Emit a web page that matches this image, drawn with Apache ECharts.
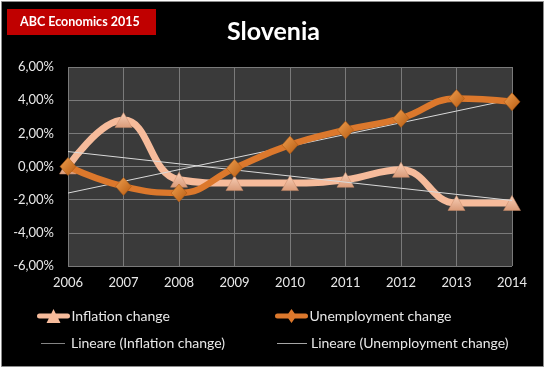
<!DOCTYPE html>
<html>
<head>
<meta charset="utf-8">
<script src="https://cdn.jsdelivr.net/npm/echarts@6/dist/echarts.min.js"></script>
<style>
html,body{margin:0;padding:0;background:#ffffff;}
#chart{width:547px;height:369px;}
</style>
</head>
<body>
<div id="chart"></div>
<script>
var years = ['2006','2007','2008','2009','2010','2011','2012','2013','2014'];
var inflationChange = [0.0, 2.8, -0.8, -1.0, -1.0, -0.8, -0.2, -2.2, -2.2];
var unemploymentChange = [0.0, -1.2, -1.6, -0.1, 1.3, 2.2, 2.9, 4.1, 3.9];
// trend line endpoints (first year, last year)
var inflationTrend = [0.9, -2.05];
var unemploymentTrend = [-1.6, 4.05];

function endpoints(arr) {
  var d = years.map(function(){ return null; });
  d[0] = arr[0]; d[years.length - 1] = arr[1];
  return d;
}
function fmt(v){ return v.toFixed(2).replace('.', ',') + '%'; }

var FONT = 'Lato';
var INF = '#f6bb9b', UNE = '#dc782c', TREND = '#d9d9d9';
var chart = echarts.init(document.getElementById('chart'), null, {renderer:'canvas'});
function legendItem(left, top, w, h, name, icon, color, padLeft) {
  return {
    left:left, top:top, padding:0, itemWidth:w, itemHeight:h, itemGap:0, selectedMode:false,
    data:[{name:name, icon:icon, itemStyle:{color:color, borderWidth:0}}],
    textStyle:{color:'#e8e8e8', fontSize:14, fontFamily:FONT, padding:[0,0,0,padLeft]}
  };
}
var infIcon = 'path://M3,4.5 L31,4.5 A2.5,2.5 0 0 1 31,9.5 L3,9.5 A2.5,2.5 0 0 1 3,4.5 Z M10,14 L17,0 L24,14 Z';
var uneIcon = 'path://M3,4.5 L31,4.5 A2.5,2.5 0 0 1 31,9.5 L3,9.5 A2.5,2.5 0 0 1 3,4.5 Z M17,0 L22,7 L17,14 L12,7 Z';
var lineIcon = 'path://M0,0 L30,0 L30,1 L0,1 Z';

chart.setOption({
  backgroundColor:'#ffffff',
  animation:false,
  graphic:[
    {type:'rect', shape:{x:1.5,y:1.5,width:542,height:365}, style:{fill:'#000000', stroke:'#8c8c8c', lineWidth:1}, z:-10},
    {type:'rect', shape:{x:7,y:9,width:149,height:26}, style:{fill:'#c00000'}, z:1},
    {type:'text', left:20, top:15, style:{text:'ABC Economics 2015', fill:'#ffffff', font:'bold 12.5px Lato'}, z:2},
    {type:'text', left:'center', top:19, style:{text:'Slovenia', fill:'#ffffff', font:'bold 25px Lato'}, z:2}
  ],
  grid:{left:68, right:35, top:67, bottom:103, show:true, backgroundColor:'#3a3a3a', borderWidth:0},
  xAxis:{
    type:'category', data:years, boundaryGap:false,
    axisLine:{show:true, lineStyle:{color:'#7f7f7f'}},
    axisTick:{show:false},
    splitLine:{show:true, lineStyle:{color:'#7a7a7a', width:1}},
    axisLabel:{color:'#e8e8e8', fontSize:13, fontFamily:FONT, margin:10}
  },
  yAxis:{
    type:'value', min:-6, max:6, interval:2,
    axisLine:{show:false}, axisTick:{show:false},
    splitLine:{show:true, lineStyle:{color:'#7a7a7a', width:1}},
    axisLabel:{color:'#e8e8e8', fontSize:13, fontFamily:FONT, margin:14, formatter:function(v){return fmt(v);}}
  },
  legend:[
    legendItem(37, 309, 34, 14, 'Inflation change', infIcon, INF, -4),
    legendItem(275, 309, 34, 14, 'Unemployment change', uneIcon, UNE, -4),
    legendItem(41, 336.5, 24, 1, 'Lineare (Inflation change)', lineIcon, '#a6a6a6', 1),
    legendItem(277, 336.5, 30, 1, 'Lineare (Unemployment change)', lineIcon, '#a6a6a6', -1)
  ],
  series:[
    {name:'Lineare (Inflation change)', type:'line', data:endpoints(inflationTrend), connectNulls:true,
     symbol:'none', lineStyle:{color:TREND, width:1}, itemStyle:{color:TREND}, z:4},
    {name:'Lineare (Unemployment change)', type:'line', data:endpoints(unemploymentTrend), connectNulls:true,
     symbol:'none', lineStyle:{color:TREND, width:1}, itemStyle:{color:TREND}, z:4},
    {name:'Inflation change', type:'line', data:inflationChange, smooth:0.45,
     symbol:'triangle', symbolSize:[17,15],
     lineStyle:{color:INF, width:7},
     itemStyle:{color:new echarts.graphic.LinearGradient(0,0,0,1,[{offset:0,color:'#f9d0b8'},{offset:1,color:'#d99a78'}]), borderColor:'#c98a68', borderWidth:0.5},
     z:3},
    {name:'Unemployment change', type:'line', data:unemploymentChange, smooth:0.45,
     symbol:'diamond', symbolSize:[16,18],
     lineStyle:{color:UNE, width:6.5},
     itemStyle:{color:new echarts.graphic.LinearGradient(0,0,1,1,[{offset:0,color:'#f0a050'},{offset:1,color:'#b65a10'}]), borderColor:'#a85410', borderWidth:0.5},
     z:5}
  ]
});
</script>
</body>
</html>
